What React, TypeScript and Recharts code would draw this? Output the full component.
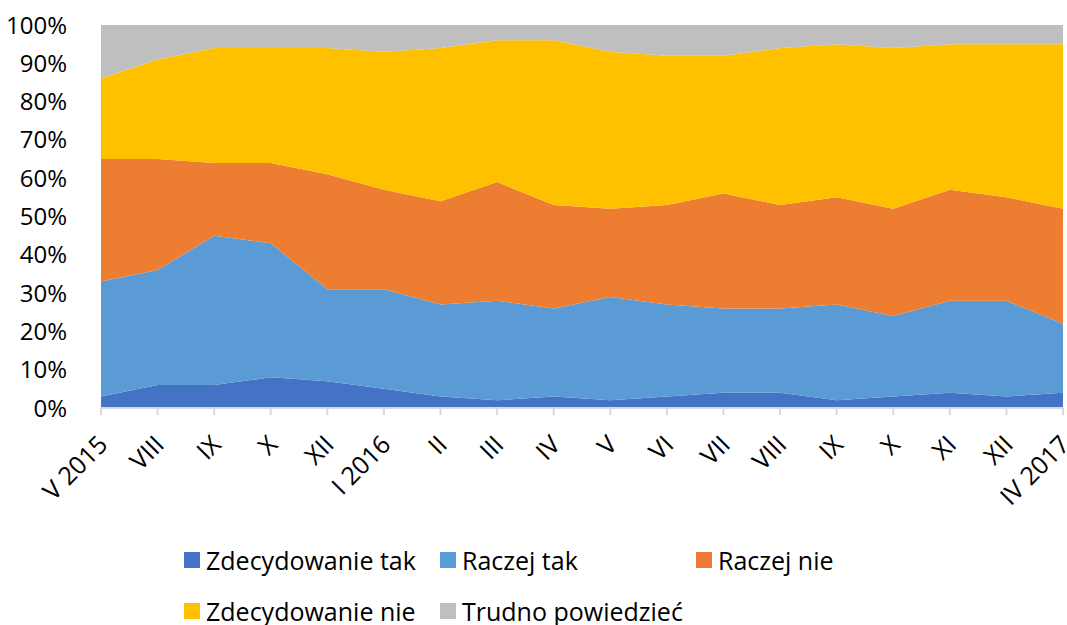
import { Area, AreaChart, Legend, XAxis, YAxis } from 'recharts'

const months = [
  'V 2015', 'VIII', 'IX', 'X', 'XII', 'I 2016', 'II', 'III', 'IV',
  'V', 'VI', 'VII', 'VIII', 'IX', 'X', 'XI', 'XII', 'IV 2017',
]

const zdecydowanieTak = [3, 6, 6, 8, 7, 5, 3, 2, 3, 2, 3, 4, 4, 2, 3, 4, 3, 4]
const raczejTak = [30, 30, 39, 35, 24, 26, 24, 26, 23, 27, 24, 22, 22, 25, 21, 24, 25, 18]
const raczejNie = [32, 29, 19, 21, 30, 26, 27, 31, 27, 23, 26, 30, 27, 28, 28, 29, 27, 30]
const zdecydowanieNie = [21, 26, 30, 30, 33, 36, 40, 37, 43, 41, 39, 36, 41, 40, 42, 38, 40, 43]
const trudno = [14, 9, 6, 6, 6, 7, 6, 4, 4, 7, 8, 8, 6, 5, 6, 5, 5, 5]

const yTicks = [0, 0.1, 0.2, 0.3, 0.4, 0.5, 0.6, 0.7, 0.8, 0.9, 1]

const series = [
  { key: 'zt', name: 'Zdecydowanie tak', color: '#4472C4' },
  { key: 'rt', name: 'Raczej tak', color: '#5B9BD5' },
  { key: 'rn', name: 'Raczej nie', color: '#ED7D31' },
  { key: 'zn', name: 'Zdecydowanie nie', color: '#FFC000' },
  { key: 'tp', name: 'Trudno powiedzieć', color: '#BFBFBF' },
]

const data = months.map((m, i) => ({
  month: m,
  zt: zdecydowanieTak[i],
  rt: raczejTak[i],
  rn: raczejNie[i],
  zn: zdecydowanieNie[i],
  tp: trudno[i],
}))

const FONT = '"Open Sans", sans-serif'

// labels sit at -45°, text ends just under the tick
function MonthTick({ x, payload }: any) {
  return (
    <g transform={`translate(${x + 2},${440})`}>
      <text x={0} y={0} dy="0.35em" textAnchor="end" transform="rotate(-45)" fontSize={25} fill="#000" fontFamily={FONT}>
        {payload.value}
      </text>
    </g>
  )
}

function LegendBox() {
  return (
    <div style={{ height: 85, position: 'relative', fontFamily: FONT, fontSize: 25, color: '#000' }}>
      {series.map((s, i) => {
        const col = i % 3
        const row = Math.floor(i / 3)
        return (
          <div
            key={s.key}
            style={{ position: 'absolute', left: 184, marginLeft: col * 256, top: row * 51 + 4, display: 'flex', alignItems: 'center', whiteSpace: 'nowrap', lineHeight: '32px' }}
          >
            <span style={{ display: 'inline-block', width: 16, height: 16, background: s.color, marginRight: 6 }} />
            <span>{s.name}</span>
          </div>
        )
      })}
    </div>
  )
}

export default function App() {
  return (
    <div style={{ position: 'absolute', left: 0, top: 0, background: '#fff' }}>
      <AreaChart
        width={1067}
        height={625}
        data={data}
        stackOffset="expand"
        margin={{ top: 25, right: 4, left: 0, bottom: 0 }}
      >
        <XAxis
          dataKey="month"
          interval={0}
          height={132}
          axisLine={{ stroke: '#D9D9D9', strokeWidth: 2 }}
          tickLine={{ stroke: '#D9D9D9', strokeWidth: 2 }}
          tickSize={7}
          tick={<MonthTick />}
        />
        <YAxis
          width={101}
          domain={[0, 1]}
          ticks={yTicks}
          tickFormatter={(v: number) => `${Math.round(v * 100)}%`}
          axisLine={false}
          tickLine={false}
          tickMargin={28}
          tick={{ fontSize: 24, fill: '#000', fontFamily: FONT }}
        />
        <Legend verticalAlign="bottom" content={() => <LegendBox />} />
        {series.map((s) => (
          <Area
            key={s.key}
            type="linear"
            dataKey={s.key}
            name={s.name}
            stackId="1"
            stroke="none"
            fill={s.color}
            fillOpacity={1}
            isAnimationActive={false}
          />
        ))}
      </AreaChart>
    </div>
  )
}
